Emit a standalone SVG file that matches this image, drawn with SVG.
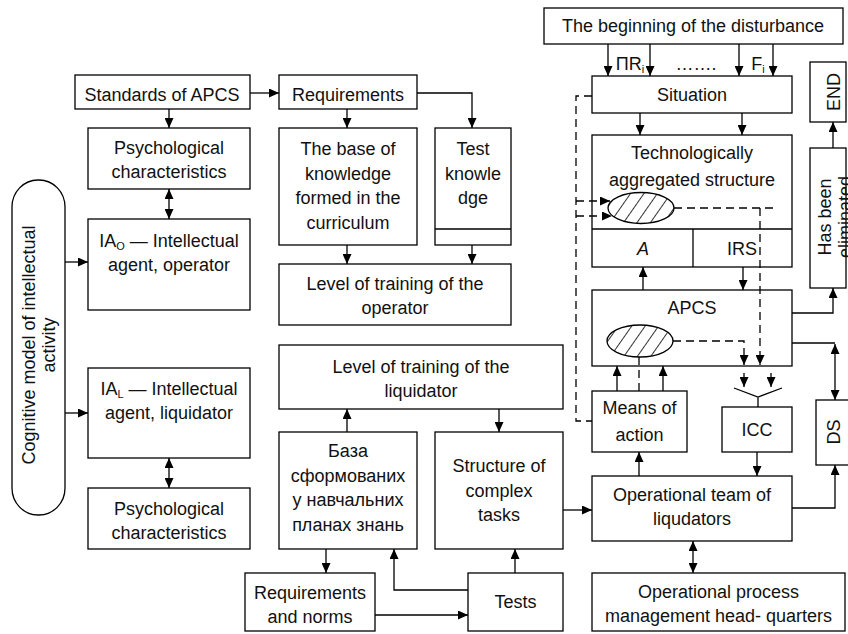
<svg xmlns="http://www.w3.org/2000/svg" width="848" height="634" viewBox="0 0 848 634">
<defs>
<marker id="ar" markerUnits="userSpaceOnUse" markerWidth="10" markerHeight="9" refX="10" refY="4.5" orient="auto-start-reverse"><path d="M0,0 L10,4.5 L0,9 z" fill="#000"/></marker>
<pattern id="hatch" patternUnits="userSpaceOnUse" width="11" height="11" patternTransform="rotate(35)"><rect width="11" height="11" fill="#fff"/><line x1="0" y1="0" x2="0" y2="11" stroke="#000" stroke-width="1.6"/></pattern>
<style>
rect.b{fill:#fff;stroke:#000;stroke-width:1.3}
line.s,path.s{fill:none;stroke:#000;stroke-width:1.3}
.c line,.c path{fill:none;stroke:#000;stroke-width:1.3}
.a{marker-end:url(#ar)}
.d2{marker-start:url(#ar);marker-end:url(#ar)}
.dash{stroke-dasharray:8 5}
text{font-family:"Liberation Sans",Arial,sans-serif;font-size:18px;fill:#111;text-anchor:middle}
.sub{font-size:11px}
</style>
</defs>
<rect width="848" height="634" fill="#fff"/>

<g id="cognitive"><rect class="b" x="12" y="180" width="53" height="335" rx="26" ry="27"/>
<text transform="translate(35,345) rotate(-90)">Cognitive model of intellectual</text>
<text transform="translate(55,345) rotate(-90)">activity</text></g>

<g id="standards"><rect class="b" x="75" y="75" width="175" height="34"/><text x="162" y="101">Standards of APCS</text></g>
<g id="psych1"><rect class="b" x="88" y="128" width="162" height="61"/><text x="169" y="154">Psychological</text><text x="169" y="178">characteristics</text></g>
<g id="iao"><rect class="b" x="88" y="219" width="162" height="91"/><text x="169" y="247">IA<tspan class="sub" dy="3">O</tspan><tspan dy="-3"> — Intellectual</tspan></text><text x="169" y="271">agent, operator</text></g>
<g id="ial"><rect class="b" x="88" y="368" width="162" height="90"/><text x="169" y="395">IA<tspan class="sub" dy="3">L</tspan><tspan dy="-3"> — Intellectual</tspan></text><text x="169" y="419">agent, liquidator</text></g>
<g id="psych2"><rect class="b" x="88" y="488" width="162" height="61"/><text x="169" y="515">Psychological</text><text x="169" y="539">characteristics</text></g>

<g id="requirements"><rect class="b" x="279" y="75" width="138" height="34"/><text x="348" y="101">Requirements</text></g>
<g id="kb"><rect class="b" x="279" y="128" width="138" height="117"/><text x="348" y="155">The base of</text><text x="348" y="179.5">knowledge</text><text x="348" y="204">formed in the</text><text x="348" y="228.5">curriculum</text></g>
<g id="testknow"><rect class="b" x="435" y="128" width="76" height="117"/><line class="s" x1="435" y1="229" x2="511" y2="229"/><text x="473" y="155">Test</text><text x="473" y="179.5">knowle</text><text x="473" y="204">dge</text></g>
<g id="levelop"><rect class="b" x="279" y="264" width="232" height="61"/><text x="395" y="290">Level of training of the</text><text x="395" y="314">operator</text></g>
<g id="levelliq"><rect class="b" x="279" y="345" width="284" height="64"/><text x="421" y="373">Level of training of the</text><text x="421" y="397">liquidator</text></g>
<g id="baza"><rect class="b" x="279" y="432" width="138" height="117"/><text x="348" y="457">База</text><text x="348" y="481.5">сформованих</text><text x="348" y="506">у навчальних</text><text x="348" y="530.5">планах знань</text></g>
<g id="structure"><rect class="b" x="435" y="432" width="128" height="117"/><text x="499" y="472">Structure of</text><text x="499" y="496.5">complex</text><text x="499" y="521">tasks</text></g>
<g id="reqnorms"><rect class="b" x="245" y="573" width="130" height="58"/><text x="310" y="599">Requirements</text><text x="310" y="623">and norms</text></g>
<g id="tests"><rect class="b" x="468" y="573" width="95" height="58"/><text x="515.5" y="608">Tests</text></g>

<g id="begin"><rect class="b" x="544" y="8" width="299" height="36"/><text x="693" y="32">The beginning of the disturbance</text></g>
<g id="situation"><rect class="b" x="592" y="76" width="200" height="37"/><text x="692" y="101">Situation</text></g>
<g id="tech"><rect class="b" x="592" y="135" width="200" height="132"/><line class="s" x1="592" y1="229" x2="792" y2="229"/><line class="s" x1="693" y1="229" x2="693" y2="267"/>
<text x="692" y="159">Technologically</text><text x="692" y="186">aggregated structure</text>
<ellipse cx="641" cy="208" rx="33" ry="15.5" fill="url(#hatch)" stroke="#000" stroke-width="1.3"/>
<text x="643" y="255" font-style="italic">A</text><text x="742" y="255">IRS</text></g>
<g id="end"><rect class="b" x="810" y="62" width="36" height="60"/><text transform="translate(840,92) rotate(-90)">END</text></g>
<g id="eliminated"><rect class="b" x="810" y="148" width="36" height="140"/><text transform="translate(831,217) rotate(-90)">Has been</text><text transform="translate(851,217) rotate(-90)">eliminated</text></g>
<g id="apcs"><rect class="b" x="592" y="290" width="200" height="76"/><text x="692" y="314">APCS</text>
<ellipse cx="640" cy="341" rx="33" ry="16" fill="url(#hatch)" stroke="#000" stroke-width="1.3"/></g>
<g id="means"><rect class="b" x="592" y="391" width="95" height="61"/><text x="639.5" y="414">Means of</text><text x="639.5" y="441">action</text></g>
<g id="icc"><rect class="b" x="722" y="407" width="70" height="45"/><text x="757" y="436">ICC</text></g>
<g id="ds"><rect class="b" x="816" y="400" width="40" height="65"/><text transform="translate(840,432) rotate(-90)">DS</text></g>
<g id="optteam"><rect class="b" x="592" y="476" width="200" height="65"/><text x="692" y="501">Operational team of</text><text x="692" y="525">liqudators</text></g>
<g id="opproc"><rect class="b" x="592" y="573" width="253" height="58"/><text x="718.5" y="598">Operational process</text><text x="718.5" y="622">management head- quarters</text></g>

<g id="labels">
<text x="630" y="70">ΠR<tspan class="sub" dy="3">i</tspan></text>
<text x="696" y="70">…….</text>
<text x="758" y="70">F<tspan class="sub" dy="3">i</tspan></text>
</g>

<g id="connectors" class="c">
<line class="a" x1="250" y1="93" x2="279" y2="93"/>
<line class="a" x1="169" y1="109" x2="169" y2="128"/>
<line class="d2" x1="169" y1="189" x2="169" y2="219"/>
<line class="a" x1="65" y1="262" x2="88" y2="262"/>
<line class="a" x1="65" y1="413" x2="88" y2="413"/>
<line class="d2" x1="169" y1="458" x2="169" y2="488"/>
<line class="a" x1="347" y1="109" x2="347" y2="128"/>
<path class="a" d="M417,93 H472 V128"/>
<line class="a" x1="347" y1="245" x2="347" y2="264"/>
<line class="a" x1="472" y1="245" x2="472" y2="264"/>
<line class="a" x1="347" y1="432" x2="347" y2="409"/>
<line class="a" x1="499" y1="409" x2="499" y2="432"/>
<line class="a" x1="326" y1="549" x2="326" y2="573"/>
<line class="a" x1="375" y1="615" x2="468" y2="615"/>
<path class="a" d="M468,590 H394 V549"/>
<line class="a" x1="515" y1="573" x2="515" y2="549"/>
<line class="a" x1="563" y1="510" x2="592" y2="510"/>

<line class="a" x1="608" y1="44" x2="608" y2="76"/>
<line class="a" x1="650" y1="44" x2="650" y2="76"/>
<line class="a" x1="739" y1="44" x2="739" y2="76"/>
<line class="a" x1="773" y1="44" x2="773" y2="76"/>
<line class="a" x1="640" y1="113" x2="640" y2="135"/>
<line class="a" x1="742" y1="113" x2="742" y2="135"/>
<line class="a" x1="643" y1="290" x2="643" y2="267"/>
<line class="a" x1="743" y1="267" x2="743" y2="290"/>
<line class="a" x1="617" y1="391" x2="617" y2="366"/>
<line class="a" x1="663" y1="391" x2="663" y2="366"/>
<line class="a" x1="639" y1="476" x2="639" y2="452"/>
<line class="a" x1="757" y1="452" x2="757" y2="476"/>
<line class="d2" x1="693" y1="541" x2="693" y2="573"/>
<path class="a" d="M792,508 H835 V465"/>
<path d="M792,343 H835"/>
<line class="d2" x1="835" y1="344" x2="835" y2="400"/>
<path class="a" d="M792,313 H833 V288"/>
<line class="a" x1="833" y1="148" x2="833" y2="122"/>
<line class="a" x1="744" y1="373" x2="744" y2="387"/>
<line class="a" x1="771" y1="373" x2="771" y2="387"/>
<path d="M734,388 L758,397 L782,388 M758,397 V407"/>

<path class="dash" d="M592,96 H576 V421 H592"/>
<line class="dash a" x1="576" y1="201" x2="610" y2="201"/>
<line class="dash a" x1="576" y1="216" x2="612" y2="216"/>
<path class="dash" d="M674,208 H773"/>
<line class="dash a" x1="760" y1="208" x2="760" y2="365"/>
<path class="dash a" d="M673,341 H744 V365"/>
<line class="dash" x1="639" y1="357" x2="639" y2="391"/>
</g>
</svg>
